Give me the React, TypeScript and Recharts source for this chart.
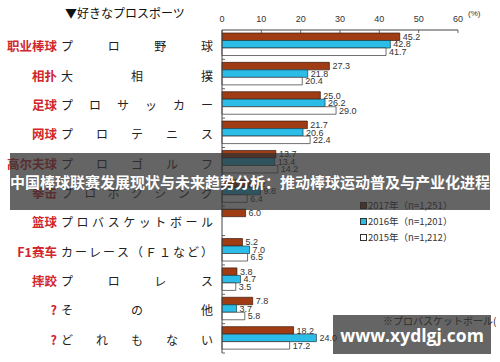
import React from "react";
import { BarChart, Bar, XAxis, YAxis, LabelList, Legend } from "recharts";

const cnLabels = ["职业棒球", "相扑", "足球", "网球", "高尔夫球", "拳击", "篮球", "F1赛车", "摔跤", "?", "?"];
const jpLabels = [
  "プロ野球",
  "大相撲",
  "プロサッカー",
  "プロテニス",
  "プロゴルフ",
  "プロボクシング",
  "プロバスケットボール",
  "カーレース（Ｆ１など）",
  "プロレス",
  "その他",
  "どれもない",
];
const y2017 = [45.2, 27.3, 25.0, 21.7, 13.7, 7.2, 6.0, 5.2, 3.8, 7.8, 18.2];
const y2016 = [42.8, 21.8, 26.2, 20.6, 13.4, 9.8, null, 7.0, 4.7, 3.7, 24.0];
const y2015 = [41.7, 20.4, 29.0, 22.4, 14.2, 6.4, null, 6.5, 3.5, 5.8, 17.2];
const xTicks = [0, 10, 20, 30, 40, 50, 60];
const seriesNames = ["2017年（n=1,251）", "2016年（n=1,201）", "2015年（n=1,212）"];

const data = jpLabels.map((jp, i) => ({
  jp,
  cn: cnLabels[i],
  y2017: y2017[i],
  y2016: y2016[i],
  y2015: y2015[i],
}));

const W = 500;
const H = 362;
const AXIS_X = 222;
const TOP = 30;
const BOTTOM = 353;
const BAND = (BOTTOM - TOP) / jpLabels.length;

const BROWN = "#a03c14";
const CYAN = "#2bbde8";
const JP_FONT = '"Noto Sans CJK JP", "Noto Sans", sans-serif';
const NUM_FONT = '"Liberation Sans", Arial, sans-serif';

function YTick(props: any) {
  const { y, payload } = props;
  const i = payload.index ?? props.index;
  const chars = Array.from(jpLabels[i]);
  const step = chars.length > 1 ? 140 / (chars.length - 1) : 0;
  return (
    <g>
      <text x={57} y={y + 1} textAnchor="end" dominantBaseline="central" fill="#d0262c" fontSize={12.5} fontWeight="bold" fontFamily='"Noto Sans CJK SC", sans-serif'>
        {cnLabels[i]}
      </text>
      {chars.map((c, j) => (
        <text key={j} x={67 + j * step} y={y + 1} textAnchor="middle" dominantBaseline="central" fill="#222" fontSize={12} fontFamily={JP_FONT}>
          {c}
        </text>
      ))}
      <line x1={AXIS_X} x2={AXIS_X + 3} y1={y + BAND / 2} y2={y + BAND / 2} stroke="#444" strokeWidth={0.8} />
    </g>
  );
}

function XTick(props: any) {
  const { x, payload } = props;
  return (
    <g>
      <text x={x} y={TOP - 8} textAnchor="middle" fill="#333" fontSize={9} fontFamily={NUM_FONT}>
        {payload.value}
      </text>
      <line x1={x} x2={x} y1={TOP} y2={TOP + 3} stroke="#444" strokeWidth={0.8} />
    </g>
  );
}

function LegendBox() {
  const fills = [BROWN, CYAN, "#fff"];
  return (
    <div style={{ fontFamily: JP_FONT, fontSize: 9.5, color: "#333", lineHeight: "16px" }}>
      {seriesNames.map((n, i) => (
        <div key={i} style={{ display: "flex", alignItems: "center" }}>
          <span style={{ display: "inline-block", width: 5, height: 5, background: fills[i], border: "1px solid #333", marginRight: 1 }} />
          {n}
        </div>
      ))}
    </div>
  );
}

const fmt = (v: any) => (v == null ? "" : Number(v).toFixed(1));
const labelStyle = { fontSize: 9, fill: "#333", fontFamily: NUM_FONT };

export default function App() {
  return (
    <div style={{ position: "relative", width: W, height: H, background: "#fff", overflow: "hidden" }}>
      <style>{"body{margin:0}"}</style>
      <div style={{ position: "absolute", left: 65, top: 4, fontSize: 12, fontFamily: JP_FONT, color: "#111" }}>▼好きなプロスポーツ</div>
      <div style={{ position: "absolute", left: 468, top: 9, fontSize: 8, fontFamily: NUM_FONT, color: "#333" }}>(%)</div>
      <BarChart
        width={W}
        height={H}
        data={data}
        layout="vertical"
        margin={{ top: 0, right: W - 458, bottom: H - BOTTOM, left: 0 }}
        barGap={0}
      >
        <XAxis
          type="number"
          orientation="top"
          domain={[0, 60]}
          ticks={xTicks}
          height={TOP}
          axisLine={{ stroke: "#444" }}
          tickLine={false}
          tick={<XTick />}
          interval={0}
        />
        <YAxis
          type="category"
          dataKey="jp"
          width={AXIS_X}
          axisLine={{ stroke: "#444" }}
          tickLine={false}
          tick={<YTick />}
          interval={0}
        />
        <Legend
          layout="vertical"
          align="center"
          verticalAlign="middle"
          content={<LegendBox />}
          wrapperStyle={{ left: 360, top: 197, width: 130 }}
        />
        <Bar dataKey="y2017" fill={BROWN} stroke="#3a1a0c" strokeWidth={0.7} barSize={7.5} isAnimationActive={false}>
          <LabelList dataKey="y2017" position="right" offset={3} formatter={fmt} style={labelStyle} />
        </Bar>
        <Bar dataKey="y2016" fill={CYAN} stroke="#1d3f4c" strokeWidth={0.7} barSize={7.5} isAnimationActive={false}>
          <LabelList dataKey="y2016" position="right" offset={3} formatter={fmt} style={labelStyle} />
        </Bar>
        <Bar dataKey="y2015" fill="#fff" stroke="#333" strokeWidth={0.7} barSize={7.5} isAnimationActive={false}>
          <LabelList dataKey="y2015" position="right" offset={3} formatter={fmt} style={labelStyle} />
        </Bar>
      </BarChart>
      <div style={{ position: "absolute", left: 383, top: 313, fontSize: 10, fontFamily: JP_FONT, color: "#222", whiteSpace: "nowrap" }}>
        ※プロバスケットボール(
      </div>
      <div
        style={{
          position: "absolute",
          left: 10,
          top: 153,
          width: 480,
          height: 57,
          background: "rgba(50,50,50,0.75)",
          display: "flex",
          alignItems: "center",
          justifyContent: "center",
          color: "#fff",
          fontWeight: "bold",
          fontSize: 15,
          fontFamily: '"Noto Sans CJK SC", sans-serif',
          whiteSpace: "nowrap",
        }}
      >
        中国棒球联赛发展现状与未来趋势分析：推动棒球运动普及与产业化进程
      </div>
      <div
        style={{
          position: "absolute",
          left: 333,
          top: 315,
          width: 158,
          height: 39,
          background: "rgba(50,50,50,0.75)",
          display: "flex",
          alignItems: "center",
          justifyContent: "center",
          color: "#fff",
          fontWeight: "bold",
          fontSize: 17.5,
          fontFamily: '"Open Sans", "Noto Sans", sans-serif',
        }}
      >
        www.xydlgj.com
      </div>
    </div>
  );
}
